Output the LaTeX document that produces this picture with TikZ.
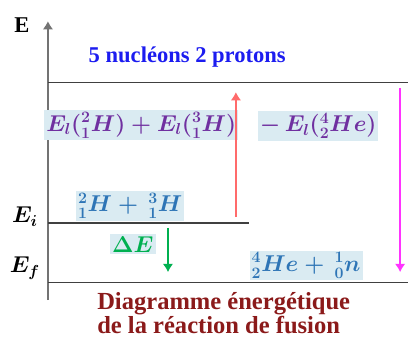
\documentclass[tikz,border=0pt]{standalone}
\usepackage{fontspec}
\setmainfont{Liberation Serif}
\usetikzlibrary{positioning,arrows.meta}
\definecolor{bleuTitre}{HTML}{1C1CF0}
\definecolor{violet}{HTML}{7030A0}
\definecolor{bleuNoyau}{HTML}{2E75B6}
\definecolor{vertDE}{HTML}{00B050}
\definecolor{rougeTitre}{HTML}{8B1A1A}
\definecolor{fondBleu}{HTML}{DAEBF2}
\definecolor{rougeFleche}{HTML}{FF6B6B}
\definecolor{magentaFleche}{HTML}{FF33FF}

\begin{document}
\begin{tikzpicture}[>={Latex[length=2.2mm,width=2.8mm]},
  font=\fontsize{17}{20}\selectfont\bfseries\boldmath,
  niveau/.style={line width=1pt, draw=black!75},
  fleche/.style={->, line width=1.4pt},
  etiquette/.style={fill=fondBleu, inner sep=1.5pt}]

\useasboundingbox (0,0) rectangle (11.10,8.96);

% axe des energies
\coordinate (O) at (1.27,1.01);
\coordinate (haut) at (1.27,8.40);
\draw[fleche, line width=1.2pt, black!55] (O) -- (haut);
\node (E) at (0.58,8.29) {E};

% niveaux
\coordinate (n0) at (1.27,6.78);
\coordinate (n0fin) at (10.81,6.78);
\draw[niveau] (n0) -- (n0fin);

\coordinate (ni) at (1.27,3.05);
\coordinate (nifin) at (6.60,3.05);
\draw[niveau] (ni) -- (nifin);

\coordinate (nf) at (1.27,1.48);
\coordinate (nffin) at (10.81,1.48);
\draw[niveau] (nf) -- (nffin);

\node (Ei) at (0.66,3.22) {$E_i$};
\node (Ef) at (0.66,1.86) {$E_f$};

\node[text=bleuTitre] (nucleons) at (4.96,7.45) {5 nucléons 2 protons};

% energies de liaison
\node[etiquette, text=violet] (liaisonH) at (3.74,5.64)
{$E_l(^2_1H)+E_l(^3_1H)$};
\node[etiquette, text=violet] (liaisonHe) at (8.43,5.62)
{$-\,E_l(^4_2He)$};

\node[etiquette, text=bleuNoyau] (reactifs) at (3.45,3.50)
{$^2_1H+\,^3_1H$};
\node[etiquette, text=vertDE] (DE) at (3.52,2.49) {$\Delta E$};
\node[etiquette, text=bleuNoyau] (produits) at (8.11,1.93)
{$^4_2He+\,^1_0n$};

% fleches
\coordinate (rouge1) at (6.25,3.21);
\coordinate (rouge2) at (6.25,6.52);
\draw[fleche, rougeFleche] (rouge1) -- (rouge2);

\coordinate (mag1) at (10.60,6.63);
\coordinate (mag2) at (10.60,1.75);
\draw[fleche, magentaFleche] (mag1) -- (mag2);

\coordinate (vert1) at (4.45,2.92);
\coordinate (vert2) at (4.45,1.75);
\draw[fleche, vertDE] (vert1) -- (vert2);

\node[text=rougeTitre, align=left, anchor=south west, inner sep=0pt,
  font=\fontsize{18.5}{16.5}\selectfont\bfseries] (legende) at (2.57,0.10)
{Diagramme énergétique\\de la réaction de fusion};

\end{tikzpicture}
\end{document}
